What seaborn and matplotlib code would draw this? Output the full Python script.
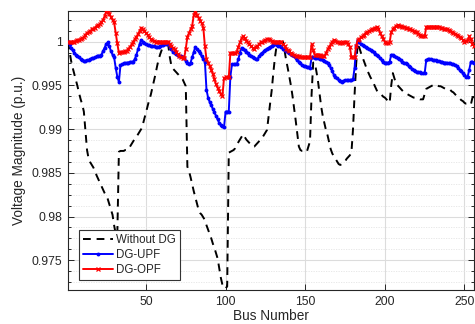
import numpy as np
import pandas as pd
import matplotlib
matplotlib.use("Agg")
import matplotlib.pyplot as plt
from matplotlib.ticker import FuncFormatter, MultipleLocator
import seaborn as sns

# ---------------- data ----------------
bus = list(range(1, 257))

without_dg = [
    1.0000, 0.9989, 0.9978, 0.9970, 0.9963, 0.9956, 0.9949, 0.9941, 0.9934, 0.9928,
    0.9920, 0.9898, 0.9876, 0.9866, 0.9862, 0.9859, 0.9856, 0.9852, 0.9847, 0.9843,
    0.9839, 0.9835, 0.9831, 0.9827, 0.9824, 0.9820, 0.9814, 0.9808, 0.9802, 0.9790,
    0.9780, 0.9778, 0.9874, 0.9875, 0.9875, 0.9875, 0.9876, 0.9876, 0.9877, 0.9880,
    0.9883, 0.9886, 0.9889, 0.9891, 0.9894, 0.9897, 0.9900, 0.9905, 0.9912, 0.9919,
    0.9926, 0.9933, 0.9939, 0.9947, 0.9955, 0.9963, 0.9972, 0.9980, 0.9986, 0.9991,
    0.9993, 0.9995, 0.9996, 0.9996, 0.9982, 0.9972, 0.9969, 0.9967, 0.9965, 0.9963,
    0.9961, 0.9959, 0.9957, 0.9953, 0.9949, 0.9857, 0.9852, 0.9845, 0.9837, 0.9829,
    0.9822, 0.9815, 0.9808, 0.9804, 0.9802, 0.9799, 0.9796, 0.9790, 0.9785, 0.9780,
    0.9775, 0.9769, 0.9764, 0.9758, 0.9752, 0.9741, 0.9730, 0.9722, 0.9718, 0.9718,
    0.9720, 0.9873, 0.9874, 0.9875, 0.9876, 0.9878, 0.9882, 0.9885, 0.9888, 0.9891,
    0.9894, 0.9891, 0.9888, 0.9886, 0.9884, 0.9882, 0.9880, 0.9880, 0.9882, 0.9884,
    0.9886, 0.9888, 0.9890, 0.9893, 0.9896, 0.9899, 0.9915, 0.9930, 0.9945, 0.9965,
    0.9982, 0.9995, 0.9997, 0.9998, 0.9999, 1.0000, 0.9990, 0.9979, 0.9970, 0.9960,
    0.9950, 0.9938, 0.9924, 0.9910, 0.9895, 0.9880, 0.9876, 0.9875, 0.9875, 0.9874,
    0.9874, 0.9880, 0.9886, 0.9940, 0.9976, 0.9976, 0.9966, 0.9955, 0.9940, 0.9926,
    0.9915, 0.9907, 0.9899, 0.9893, 0.9885, 0.9877, 0.9872, 0.9869, 0.9866, 0.9863,
    0.9860, 0.9859, 0.9860, 0.9861, 0.9863, 0.9866, 0.9868, 0.9870, 0.9873, 0.9900,
    0.9940, 0.9975, 0.9998, 0.9993, 0.9987, 0.9982, 0.9977, 0.9972, 0.9967, 0.9963,
    0.9959, 0.9956, 0.9952, 0.9948, 0.9944, 0.9942, 0.9940, 0.9939, 0.9937, 0.9936,
    0.9934, 0.9932, 0.9930, 0.9950, 0.9964, 0.9958, 0.9952, 0.9950, 0.9948, 0.9946,
    0.9944, 0.9942, 0.9941, 0.9940, 0.9939, 0.9938, 0.9937, 0.9936, 0.9936, 0.9935,
    0.9935, 0.9934, 0.9934, 0.9934, 0.9940, 0.9946, 0.9947, 0.9948, 0.9949, 0.9950,
    0.9951, 0.9950, 0.9950, 0.9949, 0.9949, 0.9948, 0.9947, 0.9946, 0.9946, 0.9945,
    0.9945, 0.9943, 0.9942, 0.9940, 0.9938, 0.9937, 0.9935, 0.9933, 0.9932, 0.9930,
    0.9929, 0.9929, 0.9928, 0.9928, 0.9936, 0.9937,
]

dg_upf = [
    1.0000, 0.9997, 0.9993, 0.9990, 0.9987, 0.9985, 0.9984, 0.9982, 0.9980, 0.9979,
    0.9978, 0.9978, 0.9979, 0.9979, 0.9980, 0.9981, 0.9981, 0.9982, 0.9983, 0.9984,
    0.9984, 0.9985, 0.9989, 0.9993, 0.9997, 0.9999, 0.9995, 0.9989, 0.9985, 0.9982,
    0.9970, 0.9960, 0.9954, 0.9973, 0.9974, 0.9975, 0.9975, 0.9976, 0.9976, 0.9977,
    0.9977, 0.9977, 0.9980, 0.9985, 0.9991, 0.9997, 1.0002, 1.0000, 0.9998, 0.9997,
    0.9996, 0.9996, 0.9995, 0.9995, 0.9995, 0.9994, 0.9994, 0.9994, 0.9995, 0.9996,
    0.9996, 0.9997, 0.9997, 0.9998, 0.9994, 0.9991, 0.9988, 0.9987, 0.9986, 0.9985,
    0.9984, 0.9983, 0.9982, 0.9981, 0.9978, 0.9975, 0.9974, 0.9976, 0.9982, 0.9988,
    0.9994, 0.9991, 0.9989, 0.9987, 0.9983, 0.9980, 0.9977, 0.9945, 0.9936, 0.9931,
    0.9927, 0.9923, 0.9919, 0.9915, 0.9911, 0.9907, 0.9905, 0.9903, 0.9902, 0.9920,
    0.9920, 0.9920, 0.9960, 0.9974, 0.9974, 0.9974, 0.9974, 0.9980, 0.9987, 0.9993,
    0.9991, 0.9990, 0.9988, 0.9987, 0.9985, 0.9984, 0.9982, 0.9981, 0.9980, 0.9980,
    0.9983, 0.9986, 0.9987, 0.9989, 0.9990, 0.9992, 0.9993, 0.9994, 0.9995, 0.9996,
    0.9997, 0.9996, 0.9995, 0.9995, 0.9994, 0.9992, 0.9990, 0.9989, 0.9988, 0.9987,
    0.9986, 0.9985, 0.9983, 0.9981, 0.9979, 0.9977, 0.9975, 0.9973, 0.9972, 0.9972,
    0.9971, 0.9971, 0.9970, 0.9982, 0.9982, 0.9981, 0.9981, 0.9981, 0.9980, 0.9980,
    0.9979, 0.9978, 0.9977, 0.9976, 0.9973, 0.9970, 0.9966, 0.9962, 0.9960, 0.9958,
    0.9956, 0.9955, 0.9954, 0.9955, 0.9956, 0.9956, 0.9956, 0.9956, 0.9956, 0.9957,
    0.9970, 0.9995, 1.0002, 0.9999, 0.9997, 0.9996, 0.9995, 0.9994, 0.9993, 0.9991,
    0.9990, 0.9989, 0.9988, 0.9986, 0.9985, 0.9983, 0.9981, 0.9979, 0.9977, 0.9976,
    0.9976, 0.9976, 0.9977, 0.9985, 0.9985, 0.9983, 0.9982, 0.9981, 0.9980, 0.9979,
    0.9977, 0.9976, 0.9975, 0.9974, 0.9972, 0.9971, 0.9969, 0.9967, 0.9966, 0.9965,
    0.9965, 0.9965, 0.9964, 0.9964, 0.9964, 0.9979, 0.9980, 0.9980, 0.9980, 0.9979,
    0.9979, 0.9979, 0.9978, 0.9978, 0.9977, 0.9977, 0.9976, 0.9976, 0.9976, 0.9975,
    0.9975, 0.9974, 0.9974, 0.9973, 0.9972, 0.9970, 0.9968, 0.9966, 0.9964, 0.9962,
    0.9960, 0.9960, 0.9968, 0.9977, 0.9977, 0.9976,
]

dg_opf = [
    1.0000, 0.9999, 0.9999, 1.0000, 1.0000, 1.0001, 1.0002, 1.0002, 1.0003, 1.0004,
    1.0005, 1.0008, 1.0010, 1.0011, 1.0012, 1.0014, 1.0015, 1.0016, 1.0018, 1.0019,
    1.0020, 1.0022, 1.0025, 1.0029, 1.0034, 1.0036, 1.0032, 1.0028, 1.0025, 1.0022,
    1.0010, 0.9998, 0.9987, 0.9988, 0.9988, 0.9988, 0.9989, 0.9989, 0.9992, 0.9994,
    0.9997, 1.0000, 1.0003, 1.0005, 1.0009, 1.0012, 1.0016, 1.0014, 1.0012, 1.0010,
    1.0008, 1.0005, 1.0003, 1.0002, 1.0001, 1.0000, 1.0000, 1.0000, 1.0000, 0.9999,
    1.0000, 1.0000, 1.0000, 1.0000, 0.9997, 0.9995, 0.9993, 0.9991, 0.9988, 0.9986,
    0.9983, 0.9982, 0.9981, 0.9981, 0.9992, 1.0005, 1.0010, 1.0014, 1.0018, 1.0030,
    1.0035, 1.0030, 1.0027, 1.0024, 1.0021, 1.0016, 0.9995, 0.9980, 0.9976, 0.9972,
    0.9968, 0.9963, 0.9957, 0.9951, 0.9947, 0.9943, 0.9940, 0.9938, 0.9958, 0.9959,
    0.9959, 0.9959, 0.9987, 0.9987, 0.9987, 0.9987, 0.9988, 0.9994, 0.9999, 1.0004,
    1.0006, 1.0004, 1.0001, 0.9999, 0.9997, 0.9995, 0.9993, 0.9992, 0.9994, 0.9995,
    0.9997, 0.9999, 0.9999, 1.0001, 1.0002, 1.0003, 1.0003, 1.0002, 1.0001, 1.0000,
    1.0000, 1.0000, 1.0000, 1.0000, 1.0000, 0.9997, 0.9995, 0.9992, 0.9990, 0.9989,
    0.9987, 0.9986, 0.9985, 0.9984, 0.9983, 0.9983, 0.9982, 0.9982, 0.9982, 0.9982,
    0.9982, 0.9982, 0.9982, 0.9997, 0.9990, 0.9985, 0.9985, 0.9985, 0.9985, 0.9984,
    0.9984, 0.9983, 0.9987, 0.9991, 0.9994, 0.9997, 1.0000, 1.0002, 1.0001, 1.0000,
    0.9999, 0.9998, 0.9998, 0.9999, 0.9999, 0.9999, 0.9997, 0.9994, 0.9982, 0.9982,
    0.9982, 0.9995, 1.0002, 1.0003, 1.0005, 1.0006, 1.0008, 1.0010, 1.0011, 1.0012,
    1.0013, 1.0014, 1.0015, 1.0016, 1.0017, 1.0015, 1.0010, 1.0006, 1.0003, 1.0000,
    0.9998, 0.9998, 0.9999, 1.0011, 1.0014, 1.0016, 1.0018, 1.0019, 1.0018, 1.0018,
    1.0017, 1.0017, 1.0016, 1.0016, 1.0015, 1.0014, 1.0013, 1.0012, 1.0011, 1.0011,
    1.0009, 1.0008, 1.0006, 1.0006, 1.0006, 1.0017, 1.0017, 1.0017, 1.0017, 1.0017,
    1.0017, 1.0017, 1.0017, 1.0017, 1.0016, 1.0016, 1.0015, 1.0014, 1.0014, 1.0013,
    1.0012, 1.0011, 1.0010, 1.0009, 1.0008, 1.0007, 1.0005, 1.0004, 1.0002, 1.0000,
    1.0001, 1.0002, 1.0006, 1.0003, 0.9997, 0.9995,
]

series_names = ["Without DG", "DG-UPF", "DG-OPF"]
x_ticks = [50, 100, 150, 200, 250]
y_ticks = [0.975, 0.98, 0.985, 0.99, 0.995, 1.0]

# ---------------- style ----------------
sns.set_style("ticks")
plt.rcParams["font.family"] = ["Liberation Sans", "DejaVu Sans"]
txt = "#262626"

fig = plt.figure(figsize=(4.75, 3.24), dpi=100)
ax = fig.add_axes([0.143, 0.105, 0.855, 0.861])

df = pd.DataFrame({"bus": bus, "nodg": without_dg, "upf": dg_upf, "opf": dg_opf})

sns.lineplot(data=df, x="bus", y="nodg", ax=ax, color="black", linewidth=1.4,
             linestyle=(0, (4, 3)), label=series_names[0], zorder=3)
sns.lineplot(data=df, x="bus", y="upf", ax=ax, color="#0000ff", linewidth=1.4,
             marker="o", markersize=2.8, markeredgewidth=0, markeredgecolor="#0000ff",
             markerfacecolor="#0000ff", label=series_names[1], zorder=4)
sns.lineplot(data=df, x="bus", y="opf", ax=ax, color="#ff0000", linewidth=1.4,
             marker="x", markersize=3.2, markeredgewidth=0.9, markeredgecolor="#ff0000",
             label=series_names[2], zorder=5)

ax.set_xlim(1, 256)
ax.set_ylim(0.9716, 1.0035)
ax.set_xticks(x_ticks)
ax.set_yticks(y_ticks)
ax.yaxis.set_minor_locator(MultipleLocator(0.00125))
ax.yaxis.set_major_formatter(FuncFormatter(lambda v, p: "{:g}".format(round(v, 4))))

ax.grid(True, which="major", color="#dcdcdc", linewidth=0.8, linestyle="-", zorder=0)
ax.grid(True, which="minor", axis="y", color="#e4e4e4", linewidth=0.6, linestyle=(0, (1.5, 1.5)), zorder=0)
ax.set_axisbelow(True)

ax.tick_params(which="both", direction="in", top=True, right=True, colors=txt,
               labelsize=8.7, width=0.7)
ax.tick_params(which="major", length=4, pad=4)
ax.tick_params(which="minor", length=2.5)
for s in ax.spines.values():
    s.set_color(txt)
    s.set_linewidth(0.8)
    s.set_visible(True)

ax.set_xlabel("Bus Number", fontsize=9.8, color=txt, labelpad=1)
ax.set_ylabel("Voltage Magnitude (p.u.)", fontsize=9.8, color=txt, labelpad=4)

leg = ax.legend(loc="lower left", bbox_to_anchor=(0.027, 0.035), fontsize=8.3,
                frameon=True, fancybox=False, edgecolor="#333333", framealpha=1,
                handlelength=2.6, handletextpad=0.3, borderpad=0.35, labelspacing=0.25,
                borderaxespad=0)
leg.get_frame().set_linewidth(0.8)
for t in leg.get_texts():
    t.set_color(txt)

fig.savefig("out.png", dpi=100)
